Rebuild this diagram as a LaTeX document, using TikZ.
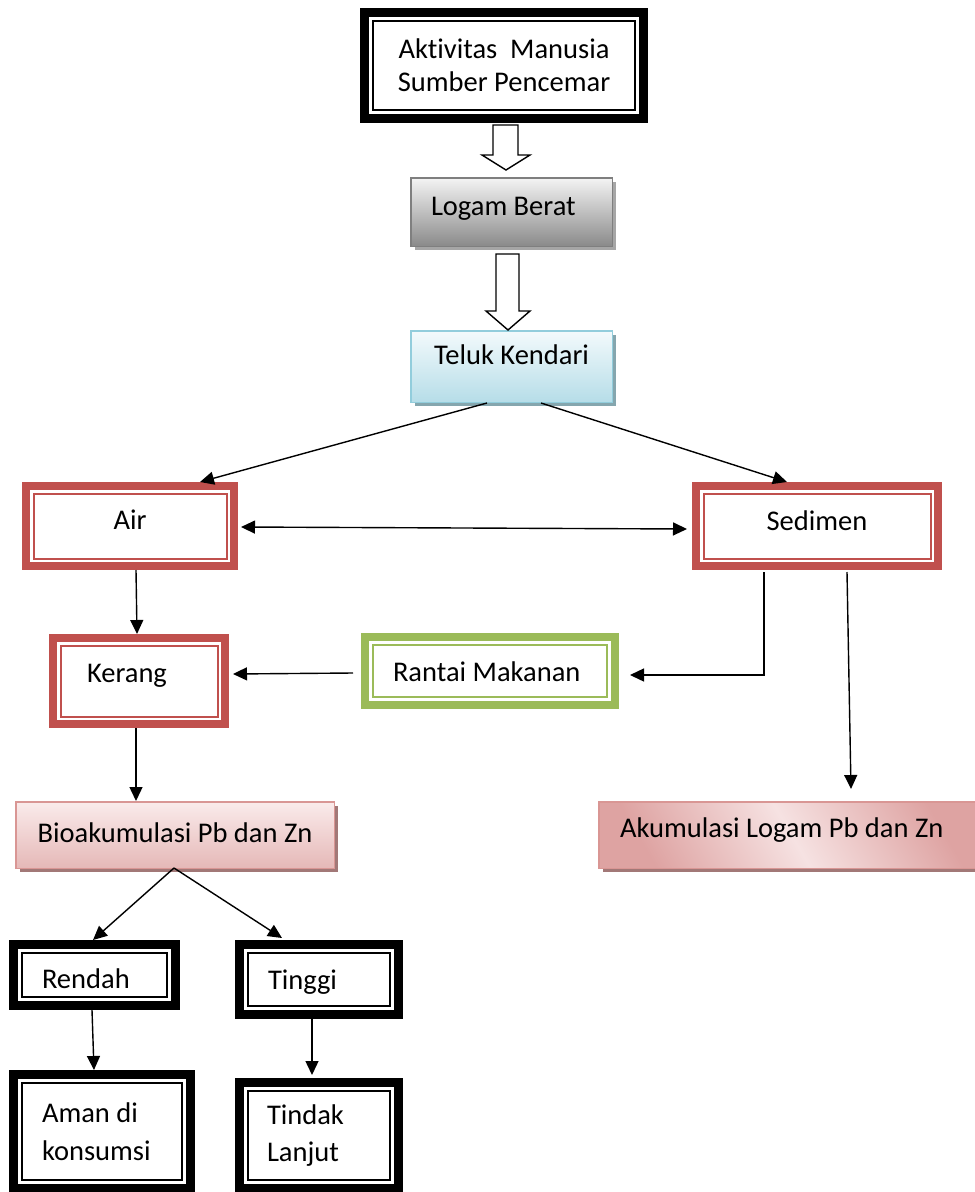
\documentclass[tikz,border=0pt]{standalone}
\usepackage{fontspec}
\setmainfont{Carlito}[Ligatures=NoCommon]
\usetikzlibrary{calc,arrows.meta,shadows}
\definecolor{redb}{HTML}{C0504D}
\definecolor{greenb}{HTML}{9BBB59}
\definecolor{grayb}{HTML}{7F7F7F}
\definecolor{grayt}{HTML}{F4F4F4}
\definecolor{graybt}{HTML}{8A8A8A}
\definecolor{blueb}{HTML}{92CDDC}
\definecolor{bluet}{HTML}{F3FAFC}
\definecolor{bluebt}{HTML}{B6DDE8}
\definecolor{pinkb}{HTML}{D99694}
\definecolor{pinkt}{HTML}{FAEBEB}
\definecolor{pinkbt}{HTML}{E5B8B7}
\definecolor{pinkd}{HTML}{DEA3A2}
\definecolor{pinkl}{HTML}{F6E2E2}
\begin{document}
\begin{tikzpicture}[x=1pt,y=-1pt,
  base/.style={inner sep=0pt, font=\fontsize{28.5}{33}\selectfont, fill=white},
  blackbox/.style={base, draw=black, line width=9pt, outer sep=4.5pt},
  redbox/.style={base, draw=redb, line width=8pt, outer sep=4pt},
  greenbox/.style={base, draw=greenb, line width=8pt, outer sep=4pt},
  gradbox/.style={base, line width=1.5pt, outer sep=0.75pt},
  shadowed/.style={drop shadow={shadow xshift=4pt, shadow yshift=-4pt, fill=#1, opacity=1}},
  innerblack/.style={draw=black, line width=2.4pt},
  innerred/.style={draw=redb, line width=2pt},
  innergreen/.style={draw=greenb, line width=2pt},
  arr/.style={line width=1.4pt, -{Triangle[length=14pt,width=13pt]}},
  dblarr/.style={line width=1.4pt, {Triangle[length=14pt,width=13pt]}-{Triangle[length=14pt,width=13pt]}},
  blockarr/.style={draw=black, fill=white, line width=1.4pt, line join=miter}
]
\useasboundingbox (0,0) rectangle (975,1192);
\clip (0,0) rectangle (975,1192);
\fill[white] (0,0) rectangle (975,1192);

% boxes
\node[blackbox, minimum width=279pt, minimum height=106pt, align=center] (top) at (504,65.5)
  {Aktivitas\ \ Manusia\\Sumber Pencemar};
\draw[innerblack] ([shift={(13,13)}]top.north west) rectangle ([shift={(-13,-13)}]top.south east);

\node[gradbox, draw=grayb, top color=grayt, bottom color=graybt, shadowed=black!35,
  minimum width=201.5pt, minimum height=68.5pt, text width=161pt, inner xsep=20.25pt, align=flush left,
  text height=18.85pt, text depth=11.15pt] (logam) at (511.5,212) {Logam Berat};

\node[gradbox, draw=blueb, top color=bluet, bottom color=bluebt, shadowed=black!30!blueb!80,
  minimum width=201.5pt, minimum height=71.5pt, align=center,
  text height=13.35pt, text depth=16.65pt] (teluk) at (511.5,366.5) {Teluk Kendari};

\node[redbox, minimum width=208pt, minimum height=80pt, align=center,
  text height=18.85pt, text depth=11.15pt] (air) at (130,526) {Air};
\draw[innerred] ([shift={(11.5,11.5)}]air.north west) rectangle ([shift={(-11.5,-11.5)}]air.south east);

\node[redbox, minimum width=242pt, minimum height=80pt, align=center,
  text height=19.85pt, text depth=10.15pt] (sedimen) at (817,526) {Sedimen};
\draw[innerred] ([shift={(11.5,11.5)}]sedimen.north west) rectangle ([shift={(-11.5,-11.5)}]sedimen.south east);

\node[redbox, minimum width=172pt, minimum height=86pt, text width=104pt, inner xsep=34pt, align=flush left,
  text height=16.85pt, text depth=13.15pt] (kerang) at (139,681) {Kerang};
\draw[innerred] ([shift={(11.5,11.5)}]kerang.north west) rectangle ([shift={(-11.5,-11.5)}]kerang.south east);

\node[greenbox, minimum width=250pt, minimum height=68pt, text width=194pt, inner xsep=28pt, align=flush left,
  text height=25.85pt, text depth=4.15pt] (rantai) at (490,671) {Rantai Makanan};
\draw[innergreen] ([shift={(12,12)}]rantai.north west) rectangle ([shift={(-12,-12)}]rantai.south east);

\node[gradbox, draw=pinkb, top color=pinkt, bottom color=pinkbt, shadowed=black!30!pinkb!90,
  minimum width=318.5pt, minimum height=66.5pt, align=center,
  text height=22.35pt, text depth=7.65pt] (bio) at (175,835) {Bioakumulasi Pb dan Zn};

\node[gradbox, draw=pinkb, left color=pinkd, right color=pinkd, middle color=pinkl, shading angle=120,
  shadowed=black!30!pinkb!90,
  minimum width=385.5pt, minimum height=66.5pt, text width=343pt, inner xsep=21.25pt, align=flush left,
  text height=17.85pt, text depth=12.15pt] (akum) at (791.5,835) {Akumulasi Logam Pb dan Zn};

\node[blackbox, minimum width=162pt, minimum height=61pt, text width=105pt, inner xsep=28.5pt, align=flush left,
  text height=28.85pt, text depth=1.15pt] (rendah) at (94.5,975) {Rendah};
\draw[innerblack] ([shift={(13,13)}]rendah.north west) rectangle ([shift={(-13,-13)}]rendah.south east);

\node[blackbox, minimum width=159pt, minimum height=70pt, text width=102pt, inner xsep=28.5pt, align=flush left,
  text height=25.35pt, text depth=4.65pt] (tinggi) at (319,979.5) {Tinggi};
\draw[innerblack] ([shift={(13,13)}]tinggi.north west) rectangle ([shift={(-13,-13)}]tinggi.south east);

\node[blackbox, minimum width=177pt, minimum height=114pt, text width=120pt, inner xsep=28.5pt, align=flush left,
  font=\fontsize{28.5}{38}\selectfont] (aman) at (102,1131.5) {Aman di\\konsumsi};
\draw[innerblack] ([shift={(13,13)}]aman.north west) rectangle ([shift={(-13,-13)}]aman.south east);

\node[blackbox, minimum width=159pt, minimum height=106pt, text width=104pt, inner xsep=27.5pt, align=flush left,
  font=\fontsize{28.5}{37}\selectfont] (tindak) at (319,1135.5) {Tindak\\Lanjut};
\draw[innerblack] ([shift={(13,13)}]tindak.north west) rectangle ([shift={(-13,-13)}]tindak.south east);

% block arrows
\draw[blockarr] ($(top.south)+(-11,2)$) -- ($(top.south)+(14,2)$) -- ($(top.south)+(14,32)$)
  -- ($(top.south)+(26,32)$) -- ($(logam.north)+(-5.5,-7)$) -- ($(top.south)+(-22,32)$)
  -- ($(top.south)+(-11,32)$) -- cycle;
\draw[blockarr] ($(logam.south)+(-15.5,7)$) -- ($(logam.south)+(7.5,7)$) -- ($(logam.south)+(7.5,64)$)
  -- ($(logam.south)+(18.5,64)$) -- ($(teluk.north)+(-3.5,0)$) -- ($(logam.south)+(-25.5,64)$)
  -- ($(logam.south)+(-15.5,64)$) -- cycle;

% connectors
\draw[arr] ($(teluk.south)+(-24.5,0)$) -- ($(air.north)+(70,0)$);
\draw[arr] ($(teluk.south)+(29.5,0)$) -- ($(sedimen.north)+(-30,0)$);
\draw[dblarr] ($(air.east)+(3,1)$) -- ($(sedimen.west)+(-5,3)$);
\draw[arr] ($(air.south)+(6,0)$) -- ($(kerang.north)+(-2,0)$);
\draw[arr] ($(rantai.west)+(-8,2)$) -- ($(kerang.east)+(4,-7)$);
\draw[arr] ($(sedimen.south)+(-53,2)$) |- ($(rantai.east)+(11,4)$);
\draw[arr] ($(sedimen.south)+(30,2)$) -- ($(akum.north)+(59.5,-12)$);
\draw[arr] ($(kerang.south)+(-3,0)$) -- ($(bio.north)+(-39,0)$);
\draw[arr] ($(bio.south)+(-1,-1)$) -- ($(rendah.north)+(-1.5,0)$);
\draw[arr] ($(bio.south)+(-1,-1)$) -- ($(tinggi.north)+(-37,-2)$);
\draw[arr] ($(rendah.south)+(-2.5,0)$) -- ($(aman.north)+(-8,0)$);
\draw[arr] ($(tinggi.south)+(-7,0)$) -- ($(tindak.north)+(-7,-3)$);
\end{tikzpicture}
\end{document}
